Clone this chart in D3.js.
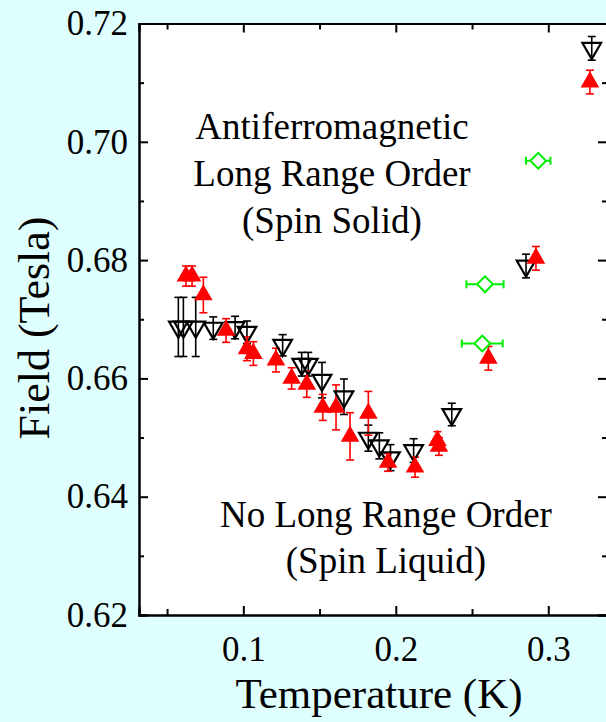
<!DOCTYPE html>
<meta charset="utf-8">
<style>
  body { margin: 0; background: #dffefe; }
  svg { display: block; font-family: "Liberation Serif", "Times New Roman", serif; }
  .axis path { stroke: #000; stroke-width: 2px; }
  .axis line { stroke: #000; stroke-width: 2px; }
</style>
<body>
<script src="https://d3js.org/d3.v7.min.js"></script>
<script>

// red filled up-triangles
var redT   = [0.0624, 0.0664, 0.0738, 0.0887, 0.1024, 0.1066, 0.1214, 0.1317, 0.1416, 0.1521, 0.1608, 0.1700, 0.1820, 0.1949, 0.2126, 0.2273, 0.2283, 0.2607, 0.2919, 0.3273];
var redF   = [0.6773, 0.6773, 0.6741, 0.6681, 0.6650, 0.6642, 0.6631, 0.6600, 0.6590, 0.6551, 0.6551, 0.6502, 0.6541, 0.6458, 0.6450, 0.6495, 0.6485, 0.6634, 0.6803, 0.7101];
var redErr = [0.0017, 0.0017, 0.0030, 0.0020, 0.0020, 0.0020, 0.0020, 0.0018, 0.0022, 0.0022, 0.0038, 0.0040, 0.0037, 0.0015, 0.0017, 0.0015, 0.0015, 0.0020, 0.0020, 0.0020];

// black open down-triangles
var blkT   = [0.0574, 0.0607, 0.0688, 0.0803, 0.0946, 0.1024, 0.1258, 0.1383, 0.1426, 0.1516, 0.1660, 0.1820, 0.1892, 0.1965, 0.2117, 0.2367, 0.2854, 0.3285];
var blkF   = [0.6687, 0.6687, 0.6687, 0.6685, 0.6686, 0.6678, 0.6656, 0.6624, 0.6624, 0.6597, 0.6569, 0.6499, 0.6486, 0.6466, 0.6478, 0.6539, 0.6790, 0.7158];
var blkErr = [0.0050, 0.0050, 0.0050, 0.0019, 0.0019, 0.0019, 0.0018, 0.0020, 0.0020, 0.0030, 0.0030, 0.0022, 0.0022, 0.0022, 0.0020, 0.0019, 0.0020, 0.0020];

// green open diamonds, horizontal error bars
var grnT    = [0.2567, 0.2585, 0.2934];
var grnF    = [0.6659, 0.6759, 0.6968];
var grnXErr = [0.0134, 0.0122, 0.0080];

var xMajor = [0.1, 0.2, 0.3];
var xMinor = [0.05, 0.15, 0.25];
var yMajor = [0.62, 0.64, 0.66, 0.68, 0.70, 0.72];
var yMinor = [0.63, 0.65, 0.67, 0.69, 0.71];

var serif = '"Liberation Serif", "Times New Roman", serif';

var margin = {top: 23.5, left: 139};
var w = 468, h = 591.5;

var svg = d3.select("body").append("svg")
    .attr("width", 606)
    .attr("height", 722);

var chart = svg.append("g")
    .attr("transform", "translate(" + margin.left + "," + margin.top + ")");

var xscale = d3.scaleLinear().domain([0.0316, 0.3385]).range([0, w]);
var yscale = d3.scaleLinear().domain([0.62, 0.72]).range([h, 0]);

chart.append("rect")
    .attr("width", w)
    .attr("height", h)
    .attr("fill", "#fff");

var fmtY = d3.format(".2f");

// minor ticks first (no labels)
chart.append("g").attr("class", "axis").attr("transform", "translate(0," + h + ")")
    .call(d3.axisBottom(xscale).tickValues(xMinor).tickSize(-6).tickFormat(""));
chart.append("g").attr("class", "axis")
    .call(d3.axisTop(xscale).tickValues(xMinor).tickSize(-6).tickFormat(""));
chart.append("g").attr("class", "axis")
    .call(d3.axisLeft(yscale).tickValues(yMinor).tickSize(-5).tickFormat(""));
chart.append("g").attr("class", "axis").attr("transform", "translate(" + w + ",0)")
    .call(d3.axisRight(yscale).tickValues(yMinor).tickSize(-5).tickFormat(""));

// major ticks
chart.append("g").attr("class", "axis").attr("transform", "translate(0," + h + ")")
    .call(d3.axisBottom(xscale).tickValues(xMajor).tickSize(-9).tickPadding(21).tickFormat(d3.format(".1f")));
chart.append("g").attr("class", "axis")
    .call(d3.axisTop(xscale).tickValues(xMajor).tickSize(-9).tickFormat(""));
chart.append("g").attr("class", "axis")
    .call(d3.axisLeft(yscale).tickValues(yMajor).tickSize(-9).tickPadding(11).tickFormat(fmtY));
chart.append("g").attr("class", "axis").attr("transform", "translate(" + w + ",0)")
    .call(d3.axisRight(yscale).tickValues(yMajor).tickSize(-9).tickFormat(""));

chart.selectAll(".axis path").attr("fill", "none");
chart.selectAll(".axis")
    .attr("font-family", serif)
    .attr("font-size", 35);
chart.selectAll(".axis text")
    .style("font-family", serif)
    .style("font-size", "35px")
    .attr("fill", "#000");

// axis titles
svg.append("text")
    .attr("x", 379).attr("y", 708)
    .attr("text-anchor", "middle")
    .attr("font-size", 43)
    .text("Temperature (K)");

svg.append("text")
    .attr("transform", "translate(49,328) rotate(-90)")
    .attr("text-anchor", "middle")
    .attr("font-size", 44)
    .text("Field (Tesla)");

// region annotations
var ann1 = ["Antiferromagnetic", "Long Range Order", "(Spin Solid)"];
var ann2 = ["No Long Range Order", "(Spin Liquid)"];

svg.selectAll("text.ann1").data(ann1).enter().append("text")
    .attr("class", "ann1")
    .attr("x", 332).attr("y", function(d, i) { return 139 + i * 47; })
    .attr("text-anchor", "middle")
    .attr("font-size", 37)
    .text(function(d) { return d; });

svg.selectAll("text.ann2").data(ann2).enter().append("text")
    .attr("class", "ann2")
    .attr("x", 386).attr("y", function(d, i) { return 527 + i * 46; })
    .attr("text-anchor", "middle")
    .attr("font-size", 37)
    .text(function(d) { return d; });

function zip(t, f, e) {
  return t.map(function(d, i) { return {t: d, f: f[i], e: e[i]}; });
}

// vertical error bars
function vErr(data, color) {
  var g = chart.append("g").attr("stroke", color).attr("stroke-width", 1.6);
  data.forEach(function(d) {
    var x = xscale(d.t), y0 = yscale(d.f - d.e), y1 = yscale(d.f + d.e);
    g.append("line").attr("x1", x).attr("x2", x).attr("y1", y0).attr("y2", y1);
    g.append("line").attr("x1", x - 4).attr("x2", x + 4).attr("y1", y0).attr("y2", y0);
    g.append("line").attr("x1", x - 4).attr("x2", x + 4).attr("y1", y1).attr("y2", y1);
  });
}

var red = zip(redT, redF, redErr);
var blk = zip(blkT, blkF, blkErr);
var grn = zip(grnT, grnF, grnXErr);

vErr(blk, "#000");
vErr(red, "#ff0000");

// green horizontal error bars
var gg = chart.append("g").attr("stroke", "#00ee00").attr("stroke-width", 2);
grn.forEach(function(d) {
  var y = yscale(d.f), x0 = xscale(d.t - d.e), x1 = xscale(d.t + d.e);
  gg.append("line").attr("x1", x0).attr("x2", x1).attr("y1", y).attr("y2", y);
  gg.append("line").attr("x1", x0).attr("x2", x0).attr("y1", y - 4).attr("y2", y + 4);
  gg.append("line").attr("x1", x1).attr("x2", x1).attr("y1", y - 4).attr("y2", y + 4);
});

var tri = d3.symbol().type(d3.symbolTriangle).size(150);
var dia = d3.symbol().type(d3.symbolSquare).size(125);

chart.selectAll("path.blk").data(blk).enter().append("path")
    .attr("class", "blk")
    .attr("d", tri)
    .attr("transform", function(d) { return "translate(" + xscale(d.t) + "," + yscale(d.f) + ") rotate(180)"; })
    .attr("fill", "none")
    .attr("stroke", "#000")
    .attr("stroke-width", 2.2);

chart.selectAll("path.red").data(red).enter().append("path")
    .attr("class", "red")
    .attr("d", tri)
    .attr("transform", function(d) { return "translate(" + xscale(d.t) + "," + yscale(d.f) + ")"; })
    .attr("fill", "#ff0000");

chart.selectAll("path.grn").data(grn).enter().append("path")
    .attr("class", "grn")
    .attr("d", dia)
    .attr("transform", function(d) { return "translate(" + xscale(d.t) + "," + yscale(d.f) + ") rotate(45)"; })
    .attr("fill", "#fff")
    .attr("stroke", "#00ee00")
    .attr("stroke-width", 2);

</script>
</body>
